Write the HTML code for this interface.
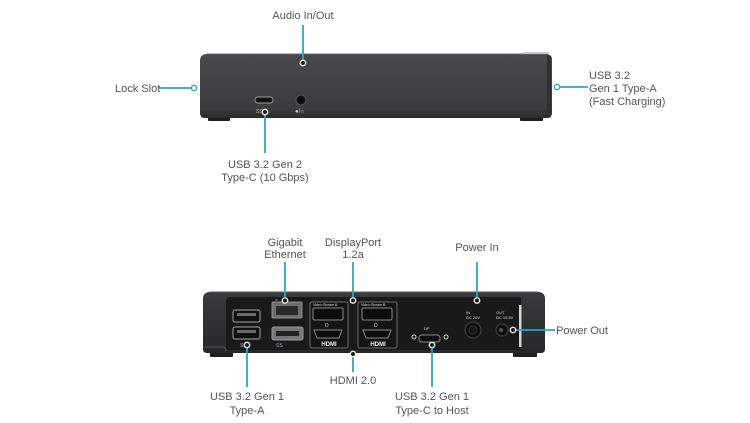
<!DOCTYPE html>
<html>
<head>
<meta charset="utf-8">
<style>
  html,body{margin:0;padding:0;background:#fff;}
  body{width:750px;height:423px;overflow:hidden;}
  svg{display:block;}
  .lbl{font-family:"Liberation Sans",sans-serif;font-size:11px;fill:#555;}
  .tiny{font-family:"Liberation Sans",sans-serif;font-size:4px;fill:#ddd;}
  .hd{font-family:"Liberation Sans",sans-serif;font-size:6px;font-weight:bold;fill:#eee;}
</style>
</head>
<body>
<svg width="750" height="423" viewBox="0 0 750 423" xmlns="http://www.w3.org/2000/svg">
  <defs>
    <linearGradient id="topbody" x1="0" y1="0" x2="0" y2="1">
      <stop offset="0" stop-color="#48494b"/>
      <stop offset="0.85" stop-color="#3b3c3e"/>
      <stop offset="1" stop-color="#2a2b2c"/>
    </linearGradient>
    <linearGradient id="shell" x1="0" y1="0" x2="0" y2="1">
      <stop offset="0" stop-color="#3a3b3d"/>
      <stop offset="1" stop-color="#262728"/>
    </linearGradient>
  </defs>

  <!-- ============ TOP DEVICE ============ -->
  <!-- feet -->
  <rect x="208" y="115" width="22" height="6" rx="1" fill="#1e1e1f"/>
  <rect x="520" y="115" width="23" height="6" rx="1" fill="#1e1e1f"/>
  <!-- body -->
  <path d="M207 54 H546 Q552 54 552 60 V113 Q552 118 547 118 H205 Q200 118 200 113 V61 Q200 54 207 54 Z" fill="url(#topbody)"/>
  <!-- top highlight -->
  <path d="M207 54 H546" stroke="#6a6b6d" stroke-width="1"/>
  <rect x="523" y="52" width="26" height="2" fill="#c8c8c8"/>
  <!-- right edge shading -->
  <rect x="547" y="56" width="4" height="60" fill="#303133"/>
  <!-- USB-C port -->
  <rect x="255" y="97" width="18" height="6" rx="3" fill="#111" stroke="#9a9a9a" stroke-width="1"/>
  <text x="256" y="113" class="tiny" style="font-size:5px;fill:#bbb">SS</text>
  <!-- Audio jack -->
  <circle cx="301" cy="100" r="5" fill="#111" stroke="#555" stroke-width="1"/>
  <circle cx="301" cy="100" r="2" fill="#000"/>
  <text x="295" y="113" class="tiny" style="font-size:6px;fill:#ccc">&#9679;/&#8745;</text>

  <!-- ============ BOTTOM DEVICE ============ -->
  <!-- feet -->
  <rect x="210" y="351" width="23" height="6" rx="1" fill="#1e1e1f"/>
  <rect x="513" y="351" width="24" height="6" rx="1" fill="#1e1e1f"/>
  <!-- shell -->
  <path d="M210 292 H538 Q545 292 545 299 V349 Q545 353 541 353 H207 Q203 353 203 349 V299 Q203 292 210 292 Z" fill="url(#shell)"/>
  <path d="M210 292 H538" stroke="#5e5f61" stroke-width="1"/>
  <!-- inner panel -->
  <path d="M231 297 H521 V350 H226 V302 Q226 297 231 297 Z" fill="#19191a"/>
  <!-- left lip -->
  <path d="M203 347 H222 Q226 347 226 351" stroke="#555" stroke-width="1" fill="none"/>
  <!-- right white strip -->
  <rect x="519" y="305" width="2.5" height="42" fill="#d4d4d4"/>

  <!-- Left USB-A stack -->
  <rect x="233" y="310" width="27" height="12" rx="2" fill="#0f0f0f" stroke="#8a8a8a" stroke-width="1.2"/>
  <rect x="237" y="313" width="19" height="3" fill="#6a6a6a"/>
  <rect x="233" y="327" width="27" height="12" rx="2" fill="#0f0f0f" stroke="#8a8a8a" stroke-width="1.2"/>
  <rect x="237" y="330" width="19" height="3" fill="#6a6a6a"/>
  <text x="240" y="347" class="tiny" style="font-size:5px;fill:#bbb">SS</text>
  <!-- Ethernet -->
  <text x="275" y="301" class="tiny" style="fill:#bbb">&#8734;</text>
  <rect x="272" y="302" width="30" height="16" rx="1" fill="#6e6e6e" stroke="#8e8e8e" stroke-width="1"/>
  <rect x="276" y="306" width="22" height="9" fill="#2a2a2a"/>
  <!-- USB-A right -->
  <rect x="272" y="327" width="31" height="13" rx="2" fill="#777" stroke="#999" stroke-width="1"/>
  <rect x="276" y="331" width="23" height="5" fill="#222"/>
  <text x="276" y="347" class="tiny" style="font-size:5px;fill:#9ab">SS</text>

  <!-- Video Stream A -->
  <rect x="310" y="302" width="38" height="46" rx="2" fill="#141414" stroke="#6d6d6d" stroke-width="1"/>
  <text x="313" y="306" class="tiny" style="font-size:3.5px">Video Stream A</text>
  <rect x="313" y="308" width="30" height="12" rx="1.5" fill="#0c0c0c" stroke="#8a8a8a" stroke-width="1"/>
  <text x="325" y="327" class="tiny" style="font-size:5px;fill:#ddd">D</text>
  <path d="M314 330 H342 L339 338 H317 Z" fill="#0c0c0c" stroke="#8a8a8a" stroke-width="1"/>
  <text x="329" y="346" class="hd" text-anchor="middle">HDMI</text>
  <!-- Video Stream B -->
  <rect x="358" y="302" width="39" height="46" rx="2" fill="#141414" stroke="#6d6d6d" stroke-width="1"/>
  <text x="361" y="306" class="tiny" style="font-size:3.5px">Video Stream B</text>
  <rect x="362" y="308" width="30" height="12" rx="1.5" fill="#0c0c0c" stroke="#8a8a8a" stroke-width="1"/>
  <text x="374" y="327" class="tiny" style="font-size:5px;fill:#ddd">D</text>
  <path d="M363 330 H391 L388 338 H366 Z" fill="#0c0c0c" stroke="#8a8a8a" stroke-width="1"/>
  <text x="378" y="346" class="hd" text-anchor="middle">HDMI</text>

  <!-- USB-C host -->
  <text x="424" y="330" class="tiny" style="font-size:4px">DP</text>
  <rect x="419" y="335" width="21" height="7" rx="3" fill="#0c0c0c" stroke="#8a8a8a" stroke-width="1"/>
  <circle cx="414" cy="337" r="2" fill="#111" stroke="#ddd" stroke-width="1"/>
  <circle cx="446" cy="337" r="2" fill="#111" stroke="#ddd" stroke-width="1"/>

  <!-- Power IN -->
  <text x="466" y="314" class="tiny">IN</text>
  <text x="466" y="319" class="tiny">DC 20V</text>
  <circle cx="473" cy="330" r="8" fill="#0c0c0c" stroke="#3e3e3e" stroke-width="1.2"/>
  <circle cx="473" cy="330" r="4" fill="#161616" stroke="#333" stroke-width="1"/>
  <!-- Power OUT -->
  <text x="496" y="314" class="tiny">OUT</text>
  <text x="496" y="319" class="tiny">DC 19.5V</text>
  <circle cx="502" cy="330" r="6" fill="#0c0c0c" stroke="#3e3e3e" stroke-width="1.2"/>
  <circle cx="501" cy="330" r="2" fill="#555"/>

  <!-- ============ CONNECTORS ============ -->
  <g stroke="#2fa4c5" stroke-width="1.8" fill="none">
    <line x1="303" y1="25" x2="303" y2="60"/>
    <line x1="159" y1="88" x2="191" y2="88"/>
    <line x1="265" y1="115" x2="265" y2="153"/>
    <line x1="560" y1="87" x2="588" y2="87"/>
    <line x1="285" y1="262" x2="285" y2="297"/>
    <line x1="353" y1="262" x2="353" y2="297"/>
    <line x1="477" y1="262" x2="477" y2="297"/>
    <line x1="353" y1="357" x2="353" y2="372"/>
    <line x1="247" y1="348" x2="247" y2="387"/>
    <line x1="432" y1="348" x2="432" y2="387"/>
    <line x1="516" y1="330" x2="555" y2="330"/>
  </g>
  <!-- markers on white background -->
  <g stroke="#2fa4c5" stroke-width="1.3" fill="#fff">
    <circle cx="194" cy="88" r="2.7"/>
    <circle cx="557" cy="87" r="2.7"/>
  </g>
  <!-- markers on device -->
  <g stroke="#f2f2f2" stroke-width="1.4" fill="#1a1a1a">
    <circle cx="303" cy="63" r="2.7"/>
    <circle cx="265" cy="112" r="2.7"/>
    <circle cx="285" cy="300.5" r="2.7"/>
    <circle cx="353" cy="300.5" r="2.7"/>
    <circle cx="477" cy="300.5" r="2.7"/>
    <circle cx="353" cy="354" r="2.7"/>
    <circle cx="247" cy="345" r="2.7"/>
    <circle cx="432" cy="345" r="2.7"/>
    <circle cx="513" cy="330" r="2.7"/>
  </g>

  <!-- ============ LABELS ============ -->
  <text class="lbl" x="303" y="19" text-anchor="middle">Audio In/Out</text>
  <text class="lbl" x="115" y="92">Lock Slot</text>
  <text class="lbl" x="265" y="168" text-anchor="middle">USB 3.2 Gen 2</text>
  <text class="lbl" x="265" y="181" text-anchor="middle">Type-C (10 Gbps)</text>
  <text class="lbl" x="589" y="79">USB 3.2</text>
  <text class="lbl" x="589" y="92">Gen 1 Type-A</text>
  <text class="lbl" x="589" y="105">(Fast Charging)</text>

  <text class="lbl" x="285" y="246" text-anchor="middle">Gigabit</text>
  <text class="lbl" x="285" y="258" text-anchor="middle">Ethernet</text>
  <text class="lbl" x="353" y="246" text-anchor="middle">DisplayPort</text>
  <text class="lbl" x="353" y="258" text-anchor="middle">1.2a</text>
  <text class="lbl" x="477" y="251" text-anchor="middle">Power In</text>
  <text class="lbl" x="353" y="384" text-anchor="middle">HDMI 2.0</text>
  <text class="lbl" x="247" y="400" text-anchor="middle">USB 3.2 Gen 1</text>
  <text class="lbl" x="247" y="414" text-anchor="middle">Type-A</text>
  <text class="lbl" x="432" y="400" text-anchor="middle">USB 3.2 Gen 1</text>
  <text class="lbl" x="432" y="414" text-anchor="middle">Type-C to Host</text>
  <text class="lbl" x="556" y="334">Power Out</text>
</svg>
</body>
</html>
